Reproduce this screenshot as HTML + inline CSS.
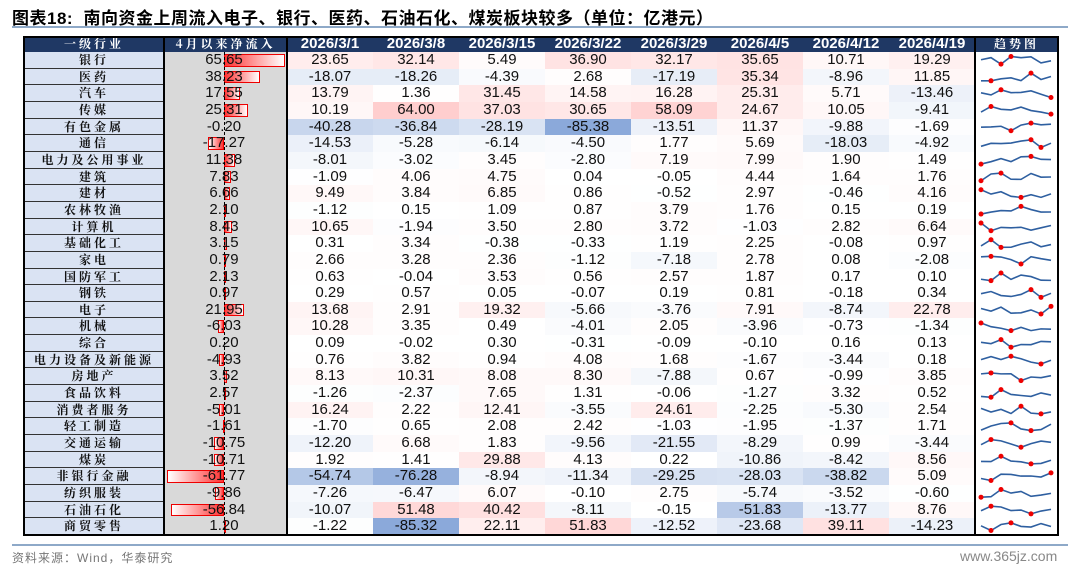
<!DOCTYPE html>
<html><head><meta charset="utf-8"><style>
body{margin:0;width:1080px;height:572px;background:#fff;position:relative;overflow:hidden;font-family:"Liberation Sans","Noto Sans CJK SC",sans-serif}
.a{position:absolute}
.t{font-family:"Liberation Sans","Noto Sans CJK SC",sans-serif;font-weight:bold;font-size:17px;left:12px;top:4px;color:#000;letter-spacing:0.5px}
.c{position:absolute;text-align:center;font-size:15px;color:#111;line-height:17px}
.h{background:#1f3864;color:#fff;font-weight:bold}
.lab{font-family:"Noto Serif CJK SC","Noto Sans CJK SC",serif;font-weight:bold;letter-spacing:3px;font-size:12px}
</style></head><body>
<div class="a t">图表18:&nbsp;&nbsp;南向资金上周流入电子、银行、医药、石油石化、煤炭板块较多（单位：亿港元）</div>
<div class="a" style="left:12px;top:26px;width:1056px;height:2px;background:#8ea9c8"></div>
<div class="a" style="left:12px;top:544px;width:1056px;height:2px;background:#8ea9c8"></div>
<div class="a" style="left:12px;top:549px;font-size:12px;color:#777;letter-spacing:1px">资料来源：Wind，华泰研究</div>
<div class="a" style="left:960px;top:548px;font-size:14px;color:#888">www.365jz.com</div>
<div id="tb"></div>
<script>
const rows=[
["银行",65.65,[23.65,32.14,5.49,36.90,32.17,35.65,10.71,19.29]],
["医药",38.23,[-18.07,-18.26,-4.39,2.68,-17.19,35.34,-8.96,11.85]],
["汽车",17.55,[13.79,1.36,31.45,14.58,16.28,25.31,5.71,-13.46]],
["传媒",25.31,[10.19,64.00,37.03,30.65,58.09,24.67,10.05,-9.41]],
["有色金属",-0.20,[-40.28,-36.84,-28.19,-85.38,-13.51,11.37,-9.88,-1.69]],
["通信",-17.27,[-14.53,-5.28,-6.14,-4.50,1.77,5.69,-18.03,-4.92]],
["电力及公用事业",11.38,[-8.01,-3.02,3.45,-2.80,7.19,7.99,1.90,1.49]],
["建筑",7.83,[-1.09,4.06,4.75,0.04,-0.05,4.44,1.64,1.76]],
["建材",6.66,[9.49,3.84,6.85,0.86,-0.52,2.97,-0.46,4.16]],
["农林牧渔",2.10,[-1.12,0.15,1.09,0.87,3.79,1.76,0.15,0.19]],
["计算机",8.43,[10.65,-1.94,3.50,2.80,3.72,-1.03,2.82,6.64]],
["基础化工",3.15,[0.31,3.34,-0.38,-0.33,1.19,2.25,-0.08,0.97]],
["家电",0.79,[2.66,3.28,2.36,-1.12,-7.18,2.78,0.08,-2.08]],
["国防军工",2.13,[0.63,-0.04,3.53,0.56,2.57,1.87,0.17,0.10]],
["钢铁",0.97,[0.29,0.57,0.05,-0.07,0.19,0.81,-0.18,0.34]],
["电子",21.95,[13.68,2.91,19.32,-5.66,-3.76,7.91,-8.74,22.78]],
["机械",-6.03,[10.28,3.35,0.49,-4.01,2.05,-3.96,-0.73,-1.34]],
["综合",0.20,[0.09,-0.02,0.30,-0.31,-0.09,-0.10,0.16,0.13]],
["电力设备及新能源",-4.93,[0.76,3.82,0.94,4.08,1.68,-1.67,-3.44,0.18]],
["房地产",3.52,[8.13,10.31,8.08,8.30,-7.88,0.67,-0.99,3.85]],
["食品饮料",2.57,[-1.26,-2.37,7.65,1.31,-0.06,-1.27,3.32,0.52]],
["消费者服务",-5.01,[16.24,2.22,12.41,-3.55,24.61,-2.25,-5.30,2.54]],
["轻工制造",-1.61,[-1.70,0.65,2.08,2.42,-1.03,-1.95,-1.37,1.71]],
["交通运输",-10.75,[-12.20,6.68,1.83,-9.56,-21.55,-8.29,0.99,-3.44]],
["煤炭",-10.71,[1.92,1.41,29.88,4.13,0.22,-10.86,-8.42,8.56]],
["非银行金融",-61.77,[-54.74,-76.28,-8.94,-11.34,-29.25,-28.03,-38.82,5.09]],
["纺织服装",-9.86,[-7.26,-6.47,6.07,-0.10,2.75,-5.74,-3.52,-0.60]],
["石油石化",-56.84,[-10.07,51.48,40.42,-8.11,-0.15,-51.83,-13.77,8.76]],
["商贸零售",1.20,[-1.22,-85.32,22.11,51.83,-12.52,-23.68,39.11,-14.23]]];
const dates=["2026/3/1","2026/3/8","2026/3/15","2026/3/22","2026/3/29","2026/4/5","2026/4/12","2026/4/19"];
let h='';const T=36,HH=16,RH=(535-52)/29;
const cell=(x,y,w,hh,st,txt,cls)=>`<div class="c ${cls||''}" style="left:${x}px;top:${y}px;width:${w}px;height:${hh}px;line-height:${hh}px;${st}">${txt}</div>`;
h+=cell(24,T,140,HH,'',"一级行业","h lab");
h+=cell(164,T,123,HH,'',"4月以来净流入","h lab");
dates.forEach((d,i)=>h+=cell(287+86*i,T,86,HH,'font-weight:bold',d,"h"));
h+=cell(975,T,83,HH,'',"趋势图","h lab");
rows.forEach((r,k)=>{const y=52+k*RH;
h+=cell(24,y,140,RH,'background:#dae3f3;border-bottom:1px solid #333;box-sizing:border-box',r[0],"lab");
h+=`<div class="a" style="left:164px;top:${y}px;width:123px;height:${RH}px;background:#d9d9d9"></div>`;
const v=r[1],bw=Math.abs(v)*0.93;
if(bw>0.5){const x=v>0?224:224-bw;h+=`<div class="a" style="left:${x}px;top:${y+2}px;width:${bw}px;height:${RH-4}px;box-sizing:border-box;border:1px solid #e00;background:linear-gradient(${v>0?'to left':'to right'},#fff,#f33)"></div>`;}
h+=cell(164,y,120,RH,'',v.toFixed(2));
r[2].forEach((x,i)=>{let bg=x>=0?`rgba(255,60,60,${Math.min(1,x/64)*0.25})`:`rgba(100,140,205,${Math.min(1,-x/85)*0.75})`;
h+=cell(287+86*i,y,86,RH,`background:${bg}`,x.toFixed(2));});
const a=r[2],mx=Math.max(...a),mn=Math.min(...a);let pts=a.map((x,i)=>[981+i*10,y+RH-4.5-(x-mn)/(mx-mn||1)*(RH-9)]);
h+=`<svg class="a" style="left:0;top:0;overflow:visible" width="1" height="1"><polyline fill="none" stroke="#2e5fa0" stroke-width="1.6" points="${pts.map(p=>p.join(',')).join(' ')}"/>${[a.indexOf(mx),a.indexOf(mn)].map(i=>`<circle cx="${pts[i][0]}" cy="${pts[i][1]}" r="2.5" fill="#e00"/>`).join('')}</svg>`;
});
h+=`<div class="a" style="left:224px;top:52px;height:483px;border-left:1px dashed #000"></div>`;
[24,164,287,975,1058].forEach(x=>h+=`<div class="a" style="left:${x-1}px;top:${T}px;width:2px;height:${535-T}px;background:#000"></div>`);
h+=`<div class="a" style="left:23px;top:${T}px;width:1036px;height:2px;background:#000"></div>`;
h+=`<div class="a" style="left:23px;top:534px;width:1036px;height:2px;background:#000"></div>`;
document.getElementById('tb').innerHTML=h;
</script>
</body></html>
